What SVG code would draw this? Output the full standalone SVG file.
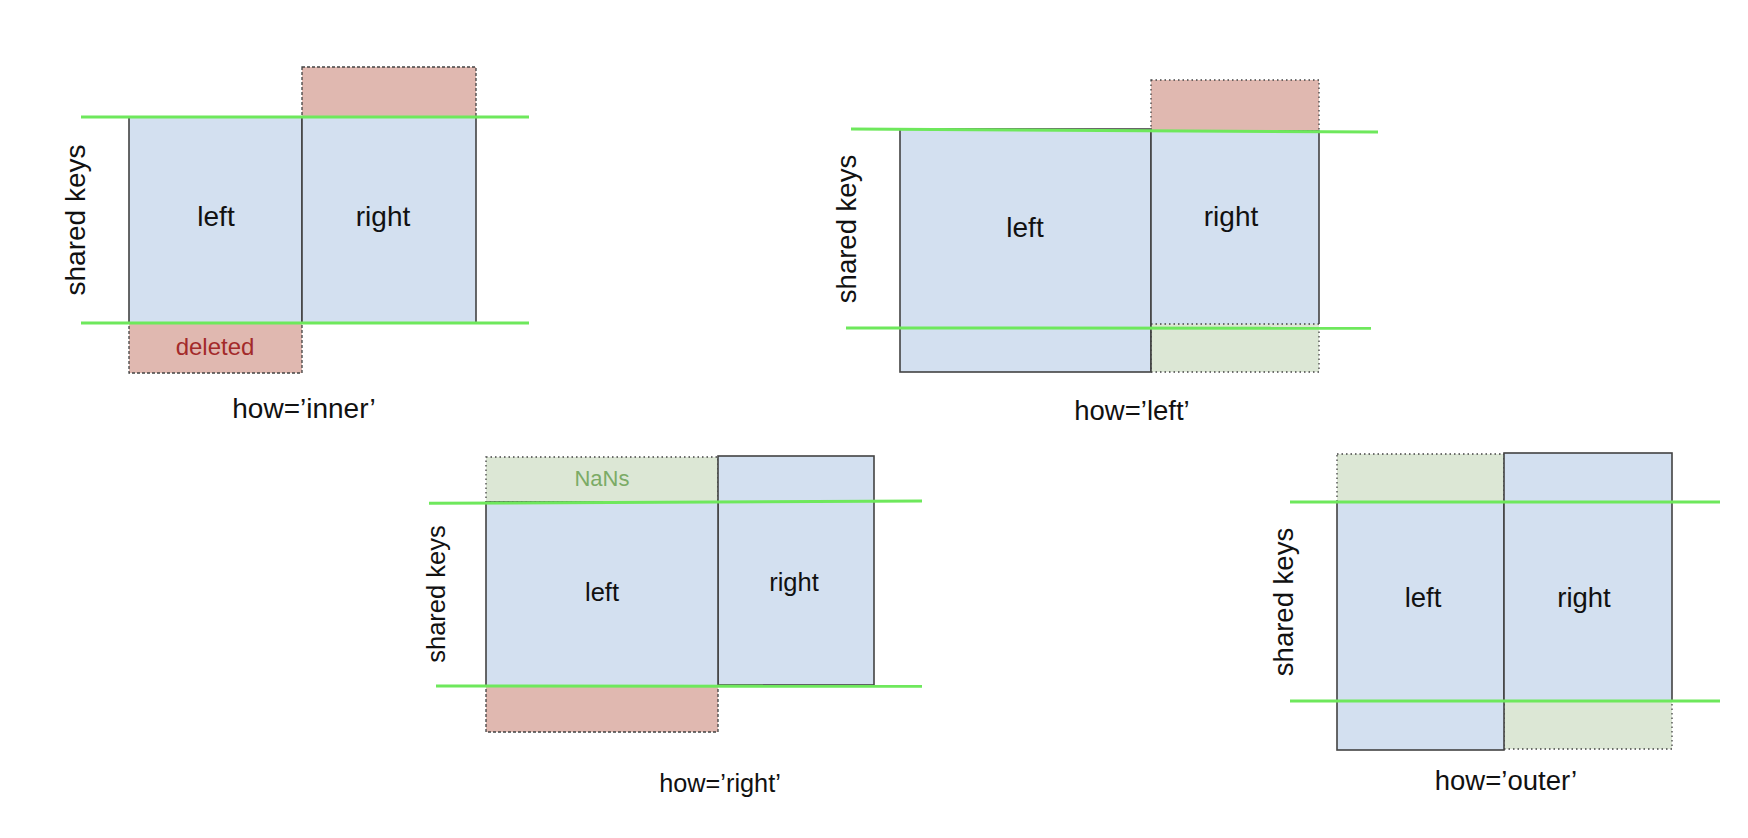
<svg xmlns="http://www.w3.org/2000/svg" width="1748" height="838" viewBox="0 0 1748 838">
<style>
.bg{fill:#ffffff}
.box{fill:#d3e0f0;stroke:#434343;stroke-width:1.6}
.boxf{fill:#d3e0f0;stroke:none}
.edge{fill:none;stroke:#434343;stroke-width:1.6}
.del{fill:#e0b8b0;stroke:#434343;stroke-width:1.3;stroke-dasharray:3 2}
.delp{fill:#e0b8b0;stroke:#434343;stroke-width:1.3;stroke-dasharray:1.5 3}
.nan{fill:#dce7d5;stroke:#434343;stroke-width:1.3;stroke-dasharray:1.5 3}
.key{stroke:#6ee85c;stroke-width:3;fill:none;stroke-linecap:butt}
text{font-family:"Liberation Sans",Arial,sans-serif;fill:#111111;text-anchor:middle}
.dt{fill:#a32a2a}
.nt{fill:#7bab66}
</style>
<rect class="bg" x="0" y="0" width="1748" height="838"/>

<g id="inner">
  <rect class="del" x="302" y="67" width="174" height="50"/>
  <rect class="del" x="129" y="323" width="173" height="50"/>
  <rect class="box" x="129" y="117" width="173" height="206"/>
  <rect class="box" x="302" y="117" width="174" height="206"/>
  <line class="key" x1="81" y1="117" x2="529" y2="117"/>
  <line class="key" x1="81" y1="323" x2="529" y2="323"/>
  <text x="216" y="226" font-size="28">left</text>
  <text x="383" y="226" font-size="28">right</text>
  <text class="dt" x="215" y="355" font-size="24">deleted</text>
  <text x="304" y="418" font-size="28">how=’inner’</text>
  <text x="0" y="0" font-size="28" transform="translate(85,220) rotate(-90)">shared keys</text>
</g>

<g id="left">
  <rect class="delp" x="1151" y="80" width="168" height="51"/>
  <rect class="box" x="900" y="129" width="251" height="243"/>
  <rect class="boxf" x="1151" y="131" width="168" height="193"/>
  <rect class="nan" x="1151" y="324" width="168" height="48"/>
  <path class="edge" d="M1151,372 V131 H1319 V324"/>
  <line class="key" x1="851" y1="129" x2="1378" y2="132"/>
  <line class="key" x1="846" y1="328" x2="1371" y2="328.3"/>
  <text x="1025" y="237" font-size="28">left</text>
  <text x="1231" y="226" font-size="28">right</text>
  <text x="1132" y="420" font-size="27.5">how=’left’</text>
  <text x="0" y="0" font-size="27.5" transform="translate(856,229) rotate(-90)">shared keys</text>
</g>

<g id="right">
  <rect class="nan" x="486" y="457" width="232" height="45"/>
  <rect class="del" x="486" y="686" width="232" height="46"/>
  <rect class="box" x="718" y="456" width="156" height="229"/>
  <rect class="box" x="486" y="502" width="232" height="184"/>
  <line class="key" x1="429" y1="503.3" x2="922" y2="501"/>
  <line class="key" x1="436" y1="686" x2="922" y2="686.3"/>
  <text class="nt" x="602" y="486" font-size="22">NaNs</text>
  <text x="602" y="601" font-size="25.5">left</text>
  <text x="794" y="591" font-size="25.5">right</text>
  <text x="720" y="792" font-size="25.3">how=’right’</text>
  <text x="0" y="0" font-size="25.5" transform="translate(445,594) rotate(-90)">shared keys</text>
</g>

<g id="outer">
  <rect class="nan" x="1337" y="454" width="167" height="48"/>
  <rect class="nan" x="1504" y="701" width="168" height="48"/>
  <rect class="box" x="1337" y="502" width="167" height="248"/>
  <rect class="box" x="1504" y="453" width="168" height="248"/>
  <line class="key" x1="1290" y1="502" x2="1720" y2="502"/>
  <line class="key" x1="1290" y1="701" x2="1720" y2="701"/>
  <text x="1423" y="607" font-size="27.5">left</text>
  <text x="1584" y="607" font-size="27.5">right</text>
  <text x="1506" y="790" font-size="27.5">how=’outer’</text>
  <text x="0" y="0" font-size="27.5" transform="translate(1293,602) rotate(-90)">shared keys</text>
</g>
</svg>
